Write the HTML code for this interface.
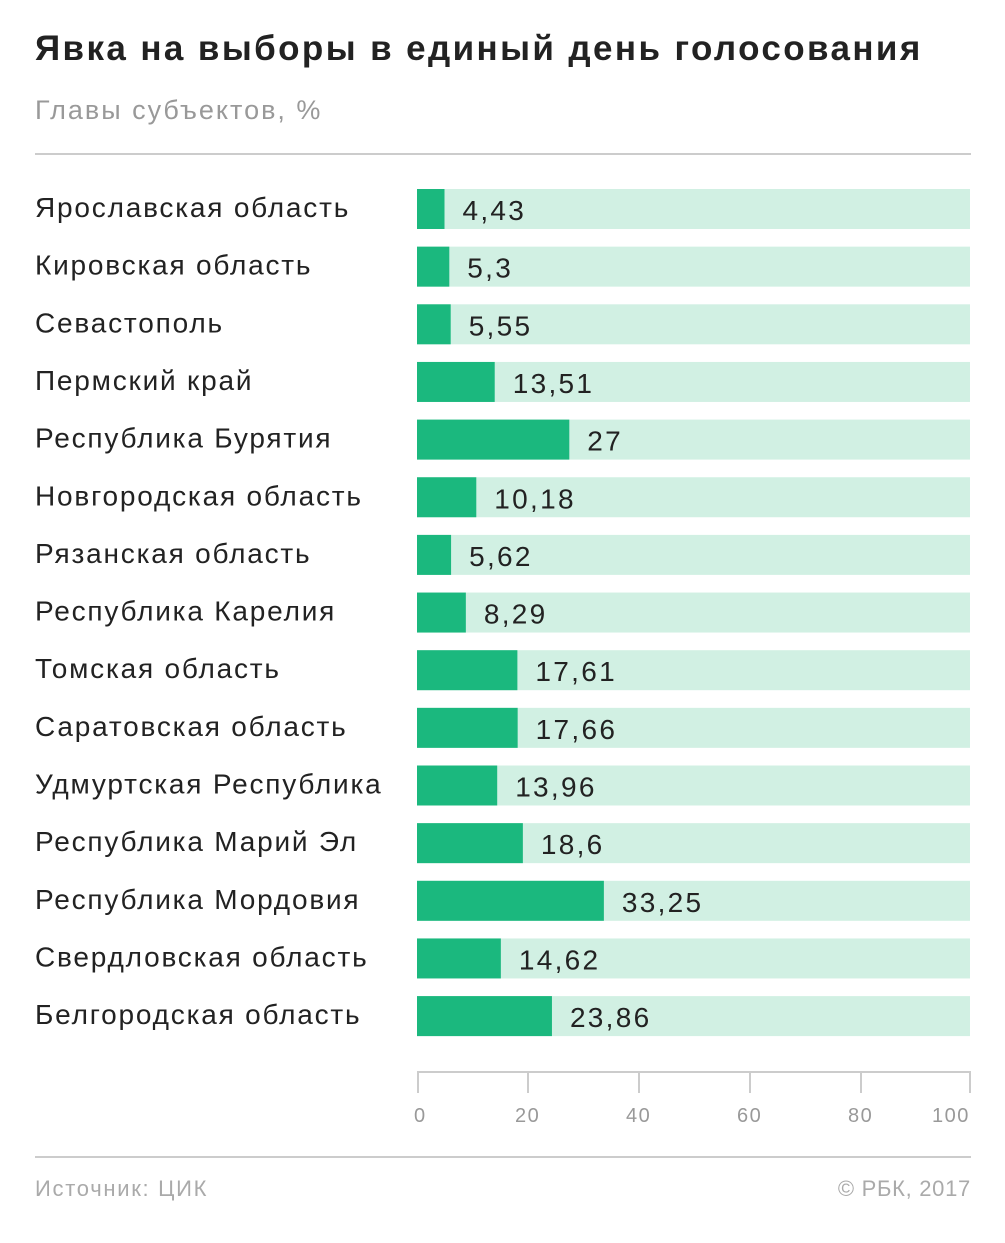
<!DOCTYPE html>
<html><head><meta charset="utf-8"><style>
body{margin:0;background:#fff;}
svg text{font-family:"Liberation Sans",sans-serif;}
</style></head><body>
<svg width="1005" height="1238" xmlns="http://www.w3.org/2000/svg">
<text x="35" y="60" font-size="35" font-weight="bold" fill="#222" letter-spacing="2.4">Явка на выборы в единый день голосования</text>
<text x="35" y="119" font-size="27" fill="#999" letter-spacing="2">Главы субъектов, %</text>
<rect x="35" y="153" width="936" height="2" fill="#ccc"/>
<g id="rows"></g>
<g fill="none" stroke="#ccc" stroke-width="2">
<path d="M417 1072H970M418 1071V1093M528 1071V1093M639 1071V1093M750 1071V1093M861 1071V1093M970 1071V1093"/>
</g>
<g font-size="20" fill="#999" letter-spacing="1.5">
<text x="414" y="1122">0</text><text x="515" y="1122">20</text><text x="626" y="1122">40</text><text x="737" y="1122">60</text><text x="848" y="1122">80</text><text x="932" y="1122">100</text>
</g>
<rect x="35" y="1156" width="936" height="2" fill="#ccc"/>
<text x="35" y="1196" font-size="22" fill="#aaa" letter-spacing="1.7">Источник: ЦИК</text>
<text x="971" y="1196" font-size="22" fill="#aaa" text-anchor="end" letter-spacing="0.7">© РБК, 2017</text>
</svg>
<script>
var d=[["Ярославская область","4,43",4.43],["Кировская область","5,3",5.3],["Севастополь","5,55",5.55],["Пермский край","13,51",13.51],["Республика Бурятия","27",27],["Новгородская область","10,18",10.18],["Рязанская область","5,62",5.62],["Республика Карелия","8,29",8.29],["Томская область","17,61",17.61],["Саратовская область","17,66",17.66],["Удмуртская Республика","13,96",13.96],["Республика Марий Эл","18,6",18.6],["Республика Мордовия","33,25",33.25],["Свердловская область","14,62",14.62],["Белгородская область","23,86",23.86]];
var g=document.getElementById('rows'),s='';
d.forEach(function(r,i){var y=189+i*57.65,w=3+r[2]*5.53;
s+='<text x="35" y="'+(y+28)+'" font-size="28" fill="#222" letter-spacing="1.8">'+r[0]+'</text>';
s+='<rect x="417" y="'+y+'" width="553" height="40" fill="#d1f0e3"/>';
s+='<rect x="417" y="'+y+'" width="'+w+'" height="40" fill="#1bb87e"/>';
s+='<text x="'+(417+w+18)+'" y="'+(y+31)+'" font-size="28" fill="#222" letter-spacing="2.3">'+r[1]+'</text>';});
g.innerHTML=s;
</script>
</body></html>
